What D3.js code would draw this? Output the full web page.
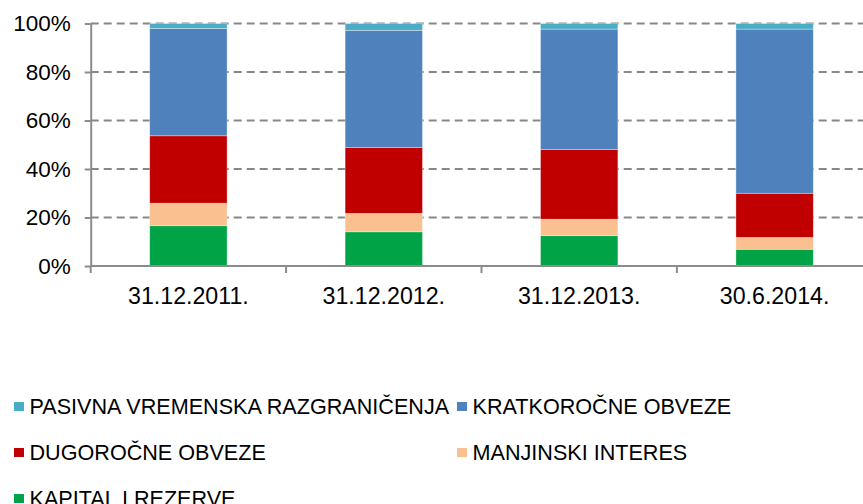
<!DOCTYPE html>
<html>
<head>
<meta charset="utf-8">
<script src="https://cdn.jsdelivr.net/npm/d3@7"></script>
<style>
  body { margin: 0; background: #fff; }
  svg { display: block; font-family: "Liberation Sans", Arial, sans-serif; }
</style>
</head>
<body>
<div id="chart"></div>
<script>
// categories (dates) and the share of each item in %
const dates = ['31.12.2011.', '31.12.2012.', '31.12.2013.', '30.6.2014.'];
const kapital = [16.6, 14.1, 12.5, 6.9];
const manjinski = [9.3, 7.6, 6.8, 4.9];
const dugorocne = [27.8, 27.2, 28.7, 18.2];
const kratkorocne = [44.2, 48.3, 49.7, 67.7];
const pasivna = [2.1, 2.8, 2.3, 2.3];
const yTicks = [0, 20, 40, 60, 80, 100];

const seriesNames = ['KAPITAL I REZERVE', 'MANJINSKI INTERES', 'DUGOROČNE OBVEZE', 'KRATKOROČNE OBVEZE', 'PASIVNA VREMENSKA RAZGRANIČENJA'];
const seriesValues = [kapital, manjinski, dugorocne, kratkorocne, pasivna];
const colors = ['#00a446', '#fac090', '#c00000', '#4f81bd', '#4bacc6'];

// legend order as it appears below the chart
const legendOrder = [4, 3, 2, 1, 0];

const width = 863, height = 504;
const plotLeft = 90.7, plotRight = 872.3, plotTop = 23.5, plotBottom = 266;

const svg = d3.select('#chart').append('svg')
  .attr('width', width)
  .attr('height', height);

// build table rows for the stack
const rows = dates.map((d, i) => {
  const r = { date: d };
  seriesNames.forEach((s, j) => { r[s] = seriesValues[j][i]; });
  return r;
});
const stacked = d3.stack().keys(seriesNames)(rows);

const pad = 0.604;
const x = d3.scaleBand()
  .domain(dates)
  .range([plotLeft, plotRight])
  .paddingInner(pad)
  .paddingOuter(pad / 2);

const y = d3.scaleLinear()
  .domain([0, 100])
  .range([plotBottom, plotTop]);

// dashed gridlines
svg.append('g')
  .selectAll('line')
  .data(yTicks.filter(t => t > 0))
  .enter()
  .append('line')
    .attr('x1', plotLeft)
    .attr('x2', width)
    .attr('y1', d => y(d))
    .attr('y2', d => y(d))
    .attr('stroke', '#878787')
    .attr('stroke-width', 2)
    .attr('stroke-dasharray', '8,5');

// bars
svg.append('g')
  .selectAll('g')
  .data(stacked)
  .enter()
  .append('g')
    .attr('fill', (d, i) => colors[i])
  .selectAll('rect')
  .data(d => d)
  .enter()
  .append('rect')
    .attr('x', d => x(d.data.date))
    .attr('width', x.bandwidth())
    .attr('y', d => y(d[1]))
    .attr('height', d => y(d[0]) - y(d[1]))
    .attr('stroke', 'rgba(255,255,255,0.45)')
    .attr('stroke-width', 0.75);

// y axis
const yAxis = svg.append('g')
  .attr('transform', `translate(${plotLeft},0)`)
  .call(d3.axisLeft(y).tickValues(yTicks).tickFormat(d => d + '%').tickSize(6).tickSizeOuter(0).tickPadding(14));
yAxis.select('.domain').attr('stroke', '#8c8c8c').attr('stroke-width', 2);
yAxis.selectAll('.tick line').attr('stroke', '#8c8c8c').attr('stroke-width', 2);
yAxis.selectAll('text')
  .attr('fill', '#000')
  .style('font-size', '22.5px')
  .style('font-family', '"Liberation Sans", Arial, sans-serif');

// x axis line with ticks between categories
const xg = svg.append('g');
xg.append('line')
  .attr('x1', plotLeft).attr('x2', width)
  .attr('y1', plotBottom).attr('y2', plotBottom)
  .attr('stroke', '#8c8c8c').attr('stroke-width', 2);
const step = x.step();
xg.selectAll('.sep')
  .data(d3.range(dates.length + 1))
  .enter()
  .append('line')
    .attr('x1', i => plotLeft + i * step)
    .attr('x2', i => plotLeft + i * step)
    .attr('y1', plotBottom)
    .attr('y2', plotBottom + 7)
    .attr('stroke', '#8c8c8c')
    .attr('stroke-width', 2);
xg.selectAll('.lbl')
  .data(dates)
  .enter()
  .append('text')
    .attr('x', d => x(d) + x.bandwidth() / 2)
    .attr('y', 303.5)
    .attr('text-anchor', 'middle')
    .style('font-size', '23.2px')
    .attr('fill', '#000')
    .text(d => d);

// legend
const legendPos = [
  { x: 14, y: 413.5 },
  { x: 457, y: 413.5 },
  { x: 14, y: 459.5 },
  { x: 457, y: 459.5 },
  { x: 14, y: 505.5 }
];
const legend = svg.append('g')
  .selectAll('g')
  .data(legendOrder)
  .enter()
  .append('g')
    .attr('transform', (d, i) => `translate(${legendPos[i].x},${legendPos[i].y})`);
legend.append('rect')
  .attr('x', 0)
  .attr('y', -11.5)
  .attr('width', 10)
  .attr('height', 9)
  .attr('fill', d => colors[d]);
legend.append('text')
  .attr('x', 15.5)
  .attr('y', 0)
  .style('font-size', '21.6px')
  .attr('fill', '#000')
  .text(d => seriesNames[d]);
</script>
</body>
</html>
